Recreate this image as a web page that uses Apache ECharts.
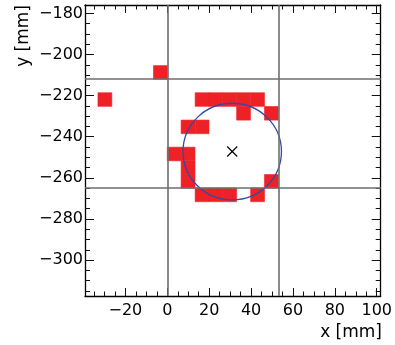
<!DOCTYPE html>
<html>
<head>
<meta charset="utf-8">
<script src="https://cdn.jsdelivr.net/npm/echarts@6/dist/echarts.min.js"></script>
<style>
  html, body { margin: 0; padding: 0; background: #fff; }
  #chart { width: 395px; height: 345px; }
</style>
</head>
<body>
<div id="chart"></div>
<script>
// Readout pixel pitch (mm)
const pitch = 6.625;

// Centres of the fired pixels (mm)
const hitX = [-3.3, -29.8, 16.6, 23.2, 29.8, 36.4, 43.1, 36.4, 49.7, 9.9, 16.6,
              3.3, 9.9, 9.9, 9.9, 49.7, 16.6, 23.2, 29.8, 43.1];
const hitY = [-208.7, -221.9, -221.9, -221.9, -221.9, -221.9, -221.9, -228.6, -228.6, -235.2, -235.2,
              -248.4, -248.4, -255.1, -261.7, -261.7, -268.3, -268.3, -268.3, -268.3];

// Sensor outline (mm)
const edgeX = [0, 53];
const edgeY = [-212, -265];

// Reconstructed ring: centre and radius (mm)
const ringCentre = [31.0, -247.2];
const ringRadius = 23.5;

// Axis ranges and ticks
const xRange = [-39.3, 101.9];
const yRange = [-317.5, -175.9];
const xMajor = [-20, 0, 20, 40, 60, 80, 100];
const xMinor = [-35, -30, -25, -15, -10, -5, 5, 10, 15, 25, 30, 35, 45, 50, 55, 65, 70, 75, 85, 90, 95, 100];
const yMajor = [-300, -280, -260, -240, -220, -200, -180];
const yMinor = [-315, -310, -305, -295, -290, -285, -275, -270, -265, -255, -250, -245,
                -235, -230, -225, -215, -210, -205, -195, -190, -185, -180];

const FONT = '"DejaVu Sans", "Liberation Sans", Arial, sans-serif';
const fmt = v => String(v).replace('-', '\u2212');

function axisSet(kind, range, major, minor) {
  const pos = kind === 'x' ? ['bottom', 'top'] : ['left', 'right'];
  const axes = [];
  pos.forEach((p, side) => {
    [major, minor].forEach((vals, m) => {
      axes.push({
        type: 'value',
        position: p,
        min: range[0],
        max: range[1],
        axisLine: { show: m === 0, onZero: false, lineStyle: { color: '#000', width: 1.3 } },
        axisTick: {
          show: true, inside: true, customValues: vals,
          length: m === 0 ? (kind === 'x' ? 8 : 9) : (kind === 'x' ? 4.5 : 5),
          lineStyle: { color: '#111', width: 1 }
        },
        axisLabel: {
          show: side === 0 && m === 0,
          customValues: major,
          formatter: fmt,
          fontFamily: FONT,
          fontSize: 16,
          color: '#000',
          margin: kind === 'x' ? 7 : 2
        },
        splitLine: { show: false }
      });
    });
  });
  return axes;
}

const cells = hitX.map((x, i) => [x, hitY[i]]);

const chart = echarts.init(document.getElementById('chart'), null, { renderer: 'canvas' });
chart.setOption({
  animation: false,
  backgroundColor: '#fff',
  grid: { left: 85, right: 13, top: 5, bottom: 49, show: false },
  xAxis: axisSet('x', xRange, xMajor, xMinor),
  yAxis: axisSet('y', yRange, yMajor, yMinor),
  graphic: [
    {
      type: 'text', x: 382, y: 341,
      style: { text: 'x [mm]', font: '17px ' + FONT, fill: '#000',
               textAlign: 'right', textVerticalAlign: 'bottom', align: 'right', verticalAlign: 'bottom' }
    },
    {
      type: 'text', x: 24, y: 5, rotation: Math.PI / 2,
      style: { text: 'y [mm]', font: '17px ' + FONT, fill: '#000',
               textAlign: 'right', textVerticalAlign: 'middle', align: 'right', verticalAlign: 'middle' }
    }
  ],
  series: [
    {
      // sensor outline
      type: 'line',
      data: [],
      silent: true,
      markLine: {
        symbol: 'none',
        silent: true,
        label: { show: false },
        lineStyle: { color: '#6e6e6e', width: 1.6, type: 'solid' },
        data: edgeX.map(v => ({ xAxis: v })).concat(edgeY.map(v => ({ yAxis: v })))
      },
      z: 1
    },
    {
      // fired pixels
      type: 'custom',
      data: cells,
      z: 2,
      renderItem: (params, api) => {
        const x = api.value(0), y = api.value(1);
        const a = api.coord([x - pitch / 2, y + pitch / 2]);
        const b = api.coord([x + pitch / 2, y - pitch / 2]);
        return {
          type: 'rect',
          shape: { x: a[0], y: a[1], width: b[0] - a[0], height: b[1] - a[1] },
          style: { fill: '#ee2226', stroke: '#ee2226', lineWidth: 0.6 }
        };
      }
    },
    {
      // ring
      type: 'custom',
      data: [[ringCentre[0], ringCentre[1], ringRadius]],
      z: 3,
      renderItem: (params, api) => {
        const c = api.coord([api.value(0), api.value(1)]);
        const s = api.size([api.value(2), api.value(2)]);
        const rx = s[0], ry = s[1];
        const d = `M ${c[0] - rx} ${c[1]} A ${rx} ${ry} 0 1 0 ${c[0] + rx} ${c[1]} A ${rx} ${ry} 0 1 0 ${c[0] - rx} ${c[1]} Z`;
        return {
          type: 'path',
          shape: { pathData: d },
          style: { fill: 'none', stroke: '#3548a5', lineWidth: 1.3 }
        };
      }
    },
    {
      // ring centre marker
      type: 'custom',
      data: [ringCentre],
      z: 4,
      renderItem: (params, api) => {
        const c = api.coord([api.value(0), api.value(1)]);
        const h = 5;
        return {
          type: 'group',
          children: [
            { type: 'line', shape: { x1: c[0] - h, y1: c[1] - h, x2: c[0] + h, y2: c[1] + h },
              style: { stroke: '#000', lineWidth: 1.2 } },
            { type: 'line', shape: { x1: c[0] - h, y1: c[1] + h, x2: c[0] + h, y2: c[1] - h },
              style: { stroke: '#000', lineWidth: 1.2 } }
          ]
        };
      }
    }
  ]
});
</script>
</body>
</html>
